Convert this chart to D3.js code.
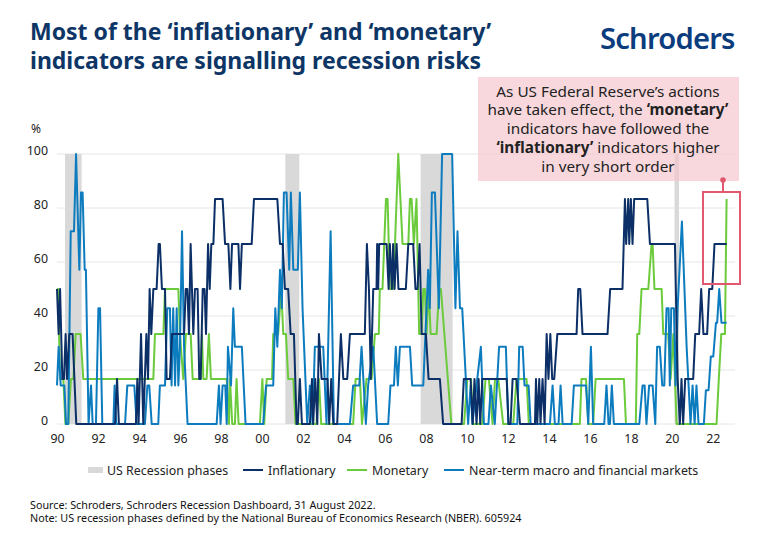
<!DOCTYPE html>
<html>
<head>
<meta charset="utf-8">
<script src="https://cdn.jsdelivr.net/npm/d3@7"></script>
<style>
  html, body { margin: 0; padding: 0; background: #fff; }
  text { font-family: "Noto Sans", sans-serif; }
</style>
</head>
<body>
<div id="chart"></div>
<script>
// DATA: [decimal year, score]
const inflationary = [[1990,50],[1990.08,33.3],[1990.15,50],[1990.26,16.7],[1990.34,16.7],[1990.42,33.3],[1990.49,16.7],[1990.6,33.3],[1990.76,33.3],[1990.94,0],[1992.83,0],[1992.93,16.7],[1993.02,0],[1993.85,0],[1993.92,16.7],[1993.98,0],[1994.1,33.3],[1994.21,0],[1994.36,33.3],[1994.44,16.7],[1994.52,50],[1994.6,33.3],[1994.7,50],[1994.86,50],[1994.96,66.7],[1995.02,66.7],[1995.12,50],[1995.27,50],[1995.35,16.7],[1995.51,16.7],[1995.61,33.3],[1996.2,33.3],[1996.28,50],[1996.36,50],[1996.44,33.3],[1996.52,66.7],[1996.65,33.3],[1996.73,50],[1996.86,50],[1996.94,16.7],[1997.01,16.7],[1997.11,50],[1997.2,50],[1997.27,33.3],[1997.37,66.7],[1997.45,50],[1997.53,66.7],[1997.63,66.7],[1997.71,83.3],[1998.08,83.3],[1998.2,66.7],[1998.36,66.7],[1998.46,50],[1998.54,66.7],[1998.85,66.7],[1998.93,50],[1999.02,66.7],[1999.5,66.7],[1999.61,83.3],[2000.75,83.3],[2000.88,66.7],[2001.01,66.7],[2001.12,50],[2001.28,50],[2001.4,33.3],[2001.56,33.3],[2001.69,0],[2001.75,0],[2001.85,16.7],[2001.95,0],[2002.34,0],[2002.44,16.7],[2002.5,0],[2002.6,16.7],[2002.7,0],[2002.78,33.3],[2002.91,16.7],[2003.2,16.7],[2003.28,0],[2003.38,16.7],[2003.48,0],[2003.67,0],[2003.85,33.3],[2003.97,16.7],[2004.16,16.7],[2004.29,33.3],[2005.02,33.3],[2005.12,66.7],[2005.22,50],[2005.31,16.7],[2005.43,50],[2005.59,50],[2005.62,66.7],[2005.67,50],[2005.72,66.7],[2006.08,66.7],[2006.18,50],[2006.24,66.7],[2006.34,50],[2006.4,66.7],[2006.47,50],[2006.57,66.7],[2006.66,50],[2007.02,50],[2007.14,66.7],[2007.38,66.7],[2007.49,50],[2007.59,50],[2007.69,66.7],[2007.79,33.3],[2008,33.3],[2008.13,16.7],[2008.68,16.7],[2008.84,0],[2009.74,0],[2009.85,16.7],[2010.18,16.7],[2010.28,0],[2010.37,16.7],[2010.47,0],[2010.57,16.7],[2010.65,0],[2010.75,16.7],[2011.94,16.7],[2012.03,0],[2012.13,0],[2012.23,16.7],[2012.42,16.7],[2012.59,0],[2013.32,0],[2013.37,16.7],[2013.43,0],[2013.53,16.7],[2013.59,0],[2013.69,16.7],[2013.79,0],[2013.89,33.3],[2013.98,16.7],[2014.07,33.3],[2014.16,16.7],[2014.26,16.7],[2014.41,33.3],[2015.35,33.3],[2015.43,50],[2015.53,50],[2015.64,33.3],[2016.86,33.3],[2016.99,50],[2017.59,50],[2017.71,83.3],[2017.77,66.7],[2017.87,83.3],[2017.92,66.7],[2018,83.3],[2018.08,66.7],[2018.16,83.3],[2018.8,83.3],[2018.93,66.7],[2020.15,66.7],[2020.28,16.7],[2020.39,0],[2020.47,16.7],[2020.55,0],[2020.65,16.7],[2021.04,16.7],[2021.14,33.3],[2021.33,33.3],[2021.43,50],[2021.54,33.3],[2021.72,33.3],[2021.82,50],[2021.97,50],[2022.08,66.7],[2022.67,66.7]]

const monetary = [[1990,50],[1990.05,50],[1990.15,16.7],[1990.31,16.7],[1990.41,0],[1990.55,0],[1990.68,16.7],[1990.8,16.7],[1990.91,33.3],[1991.15,33.3],[1991.28,16.7],[1994.7,16.7],[1994.78,33.3],[1995.19,33.3],[1995.27,50],[1995.92,50],[1996,33.3],[1996.16,16.7],[1996.29,33.3],[1996.52,33.3],[1996.62,16.7],[1997.01,16.7],[1997.07,33.3],[1997.14,16.7],[1997.3,16.7],[1997.41,33.3],[1997.51,16.7],[1998.28,16.7],[1998.39,0],[1998.44,16.7],[1998.55,0],[1998.68,0],[1998.76,16.7],[1998.86,0],[1999.9,0],[2000.02,16.7],[2000.11,0],[2000.23,16.7],[2000.49,16.7],[2000.55,33.3],[2000.79,33.3],[2000.94,50],[2001.04,33.3],[2001.17,33.3],[2001.28,16.7],[2001.53,16.7],[2001.64,0],[2002.66,0],[2002.78,16.7],[2002.89,0],[2004.45,0],[2004.57,16.7],[2004.78,16.7],[2004.88,0],[2005.1,16.7],[2005.35,16.7],[2005.51,33.3],[2005.7,33.3],[2005.75,50],[2005.88,50],[2006.05,83.3],[2006.13,83.3],[2006.24,50],[2006.4,50],[2006.49,66.7],[2006.65,100],[2006.86,66.7],[2007.14,66.7],[2007.22,83.3],[2007.3,83.3],[2007.41,66.7],[2007.54,83.3],[2007.67,33.3],[2007.79,33.3],[2007.87,50],[2007.95,50],[2008.03,33.3],[2008.14,50],[2008.23,33.3],[2008.52,33.3],[2008.65,50],[2008.73,50],[2009.24,0],[2009.86,0],[2010.02,16.7],[2010.2,16.7],[2010.29,0],[2010.75,0],[2010.91,16.7],[2011.07,16.7],[2011.25,0],[2011.37,16.7],[2011.53,16.7],[2011.77,0],[2012.26,0],[2012.42,16.7],[2012.91,16.7],[2013.02,0],[2015.51,0],[2015.59,16.7],[2015.81,16.7],[2015.92,0],[2016.16,0],[2016.28,16.7],[2017.66,16.7],[2017.76,0],[2018.24,0],[2018.31,33.3],[2018.41,33.3],[2018.52,50],[2018.85,50],[2019.01,66.7],[2019.06,66.7],[2019.15,50],[2019.5,50],[2019.58,33.3],[2019.82,33.3],[2019.94,16.7],[2020.07,33.3],[2020.15,16.7],[2020.23,0],[2022.18,0],[2022.29,16.7],[2022.41,33.3],[2022.59,33.3],[2022.67,83.3]]

const nearTerm = [[1990,14.3],[1990.08,28.6],[1990.18,14.3],[1990.36,14.3],[1990.44,0],[1990.55,0],[1990.67,71.4],[1990.83,71.4],[1990.93,100],[1991.09,57.1],[1991.17,85.7],[1991.25,85.7],[1991.35,57.1],[1991.41,57.1],[1991.54,0],[1991.66,14.3],[1991.74,0],[1991.9,0],[1992.02,42.9],[1992.1,42.9],[1992.21,0],[1992.75,0],[1992.81,14.3],[1992.89,0],[1993.32,0],[1993.43,14.3],[1993.77,14.3],[1993.89,0],[1994.29,0],[1994.41,14.3],[1994.5,14.3],[1994.62,0],[1994.94,0],[1995.02,14.3],[1995.27,14.3],[1995.38,42.9],[1995.51,42.9],[1995.59,14.3],[1995.67,42.9],[1995.76,14.3],[1995.84,42.9],[1995.92,14.3],[1996,28.6],[1996.1,71.4],[1996.2,28.6],[1996.37,0],[1997.79,0],[1997.9,14.3],[1997.98,0],[1998.08,14.3],[1998.21,14.3],[1998.28,0],[1998.34,28.6],[1998.49,14.3],[1998.6,42.9],[1998.68,28.6],[1999.02,28.6],[1999.2,0],[2000.06,0],[2000.2,14.3],[2000.55,14.3],[2000.65,42.9],[2000.75,28.6],[2000.88,57.1],[2000.97,42.9],[2001.07,85.7],[2001.2,85.7],[2001.33,57.1],[2001.41,85.7],[2001.53,57.1],[2001.75,57.1],[2001.85,85.7],[2001.98,42.9],[2002.21,0],[2002.34,14.3],[2002.47,0],[2002.58,28.6],[2002.99,28.6],[2003.15,0],[2003.35,71.4],[2003.51,0],[2004.29,0],[2004.45,14.3],[2004.75,14.3],[2004.86,28.6],[2005.07,0],[2005.18,14.3],[2005.43,28.6],[2005.62,0],[2006.16,0],[2006.27,14.3],[2006.44,14.3],[2006.53,28.6],[2006.63,14.3],[2006.73,28.6],[2007.22,28.6],[2007.33,14.3],[2007.87,14.3],[2008.11,57.1],[2008.19,42.9],[2008.29,85.7],[2008.44,85.7],[2008.63,42.9],[2008.79,100],[2009.28,100],[2009.44,42.9],[2009.54,71.4],[2009.66,42.9],[2009.77,42.9],[2010.06,0],[2010.18,14.3],[2010.27,0],[2010.47,14.3],[2010.68,28.6],[2010.83,0],[2011.05,0],[2011.17,14.3],[2011.36,0],[2011.57,28.6],[2011.9,28.6],[2012.02,0],[2012.46,0],[2012.55,28.6],[2012.72,28.6],[2012.81,14.3],[2013.01,14.3],[2013.11,0],[2014.05,0],[2014.18,14.3],[2014.29,0],[2014.47,0],[2014.57,14.3],[2014.67,0],[2015.11,0],[2015.22,14.3],[2015.81,14.3],[2015.92,0],[2016.05,28.6],[2016.16,0],[2016.7,0],[2016.81,14.3],[2016.91,0],[2016.98,0],[2017.07,14.3],[2017.17,0],[2018.41,0],[2018.57,14.3],[2018.67,14.3],[2018.76,0],[2018.89,14.3],[2019.06,14.3],[2019.19,0],[2019.28,28.6],[2019.41,28.6],[2019.53,14.3],[2019.63,14.3],[2019.74,42.9],[2019.84,42.9],[2019.9,14.3],[2019.97,42.9],[2020.1,42.9],[2020.18,14.3],[2020.28,42.9],[2020.49,75],[2020.72,28.6],[2020.91,0],[2021.01,14.3],[2021.11,0],[2021.2,14.3],[2021.3,0],[2021.56,0],[2021.66,12.5],[2021.79,12.5],[2021.9,25],[2022.02,25],[2022.15,37.5],[2022.21,37.5],[2022.31,50],[2022.42,37.5],[2022.67,37.5]]

const recessions = [[1990.39,1991.2],[2001.14,2001.82],[2007.74,2009.3],[2020.13,2020.35]]

const yTicks = [0, 20, 40, 60, 80, 100]
const xTicks = [1990,1992,1994,1996,1998,2000,2002,2004,2006,2008,2010,2012,2014,2016,2018,2020,2022]

const titleLines = ["Most of the ‘inflationary’ and ‘monetary’", "indicators are signalling recession risks"]
const footnotes = ["Source: Schroders, Schroders Recession Dashboard, 31 August 2022.",
    "Note: US recession phases defined by the National Bureau of Economics Research (NBER). 605924"]

const navy = "#0b2f66"
const green = "#6ccb3c"
const blue = "#0d7cbf"
const grey = "#d9d9d9"

// SVG
const width = 767
const height = 547
const margin = {left: 57, right: 32, top: 154, bottom: 123}

const svg = d3.select("#chart").append("svg")
    .attr("width", width).attr("height", height)
    .style("display", "block")

// TITLE + LOGO
svg.selectAll(".title").data(titleLines).enter().append("text")
    .attr("class", "title")
    .attr("x", 30)
    .attr("y", (d, i) => 40 + i * 29)
    .attr("font-size", 23)
    .attr("font-weight", 700)
    .attr("fill", "#0d3565")
    .text(d => d)

svg.append("text")
    .attr("x", 600).attr("y", 49)
    .attr("font-size", 29.2)
    .attr("font-weight", 600)
    .attr("letter-spacing", -0.8)
    .attr("fill", "#0b3c7d")
    .text("Schroders")

// SCALES
const x = d3.scaleLinear().domain([1990, 2023.08]).range([margin.left, width - margin.right])
const y = d3.scaleLinear().domain([0, 100]).range([height - margin.bottom, margin.top])

// GRID
svg.append("g").selectAll("line").data(yTicks).enter().append("line")
    .attr("x1", margin.left).attr("x2", width - margin.right)
    .attr("y1", d => y(d)).attr("y2", d => y(d))
    .attr("stroke", "#e6e6e6").attr("stroke-width", 1)

// RECESSION BANDS
svg.append("g").selectAll("rect").data(recessions).enter().append("rect")
    .attr("x", d => x(d[0]))
    .attr("y", margin.top)
    .attr("width", d => x(d[1]) - x(d[0]))
    .attr("height", y(0) - margin.top)
    .attr("fill", grey)

// AXES
const xAxis = d3.axisBottom(x).tickValues(xTicks).tickSize(0).tickPadding(10)
    .tickFormat(d => String(d % 100).padStart(2, "0"))
const yAxis = d3.axisLeft(y).tickValues(yTicks).tickSize(0).tickPadding(9)

const xAxisGroup = svg.append("g").attr("transform", `translate(0, ${y(0)})`).call(xAxis)
const yAxisGroup = svg.append("g").attr("transform", `translate(${margin.left}, -3)`).call(yAxis)
xAxisGroup.select(".domain").remove()
yAxisGroup.select(".domain").remove()
svg.selectAll(".tick text")
    .style("font-family", '"Noto Sans", sans-serif')
    .style("font-size", "12.4px")
    .attr("fill", "#222")

svg.append("text").attr("x", 31).attr("y", 133)
    .attr("font-size", 12).attr("fill", "#222").text("%")

// LINES
const line = d3.line().x(d => x(d[0])).y(d => y(d[1]))

const seriesList = [
    {name: "monetary", data: monetary, color: green},
    {name: "nearTerm", data: nearTerm, color: blue},
    {name: "inflationary", data: inflationary, color: navy}
]

svg.append("g").selectAll("path").data(seriesList).enter().append("path")
    .attr("d", d => line(d.data))
    .attr("fill", "none")
    .attr("stroke", d => d.color)
    .attr("stroke-width", 2)
    .attr("stroke-linejoin", "round")

// ANNOTATION
svg.append("rect")
    .attr("x", 478).attr("y", 77).attr("width", 261).attr("height", 104)
    .attr("fill", "#f5c3cb").attr("opacity", 0.65)

const note = svg.append("text")
    .attr("text-anchor", "middle")
    .attr("font-size", 15.3)
    .attr("fill", "#222")
const noteLines = [
    [["As US Federal Reserve’s actions", 400]],
    [["have taken effect, the ", 400], ["‘monetary’", 700]],
    [["indicators have followed the", 400]],
    [["‘inflationary’", 700], [" indicators higher", 400]],
    [["in very short order", 400]]
]
noteLines.forEach((parts, i) => {
    const row = note.append("tspan").attr("x", 608).attr("y", 96.5 + i * 18.8)
    parts.forEach(p => row.append("tspan").attr("font-weight", p[1]).text(p[0]))
})

svg.append("rect")
    .attr("x", 703).attr("y", 192).attr("width", 37).attr("height", 92)
    .attr("fill", "none").attr("stroke", "#e2586f").attr("stroke-width", 2)
svg.append("line")
    .attr("x1", 723).attr("x2", 723).attr("y1", 180).attr("y2", 192)
    .attr("stroke", "#e2586f").attr("stroke-width", 2)
svg.append("circle")
    .attr("cx", 723).attr("cy", 180).attr("r", 2.8).attr("fill", "#e2586f")

// LEGEND
const legendY = 470
svg.append("rect").attr("x", 88).attr("y", legendY - 3).attr("width", 15).attr("height", 6).attr("fill", grey)
svg.append("text").attr("x", 107).attr("y", legendY + 4.5).attr("font-size", 12.4).attr("fill", "#222").text("US Recession phases")

const legendNames = ["Inflationary", "Monetary", "Near-term macro and financial markets"]
const legendColors = [navy, green, blue]
const legendLineX = [243, 347, 444]

legendNames.forEach((name, i) => {
    svg.append("line")
        .attr("x1", legendLineX[i]).attr("x2", legendLineX[i] + 20)
        .attr("y1", legendY).attr("y2", legendY)
        .attr("stroke", legendColors[i]).attr("stroke-width", 2)
    svg.append("text")
        .attr("x", legendLineX[i] + 25).attr("y", legendY + 4.5)
        .attr("font-size", 12.4).attr("fill", "#222").text(name)
})

// FOOTNOTES
svg.selectAll(".foot").data(footnotes).enter().append("text")
    .attr("class", "foot")
    .attr("x", 30)
    .attr("y", (d, i) => 509 + i * 13)
    .attr("font-size", 10.75)
    .attr("fill", "#111")
    .text(d => d)
</script>
</body>
</html>
